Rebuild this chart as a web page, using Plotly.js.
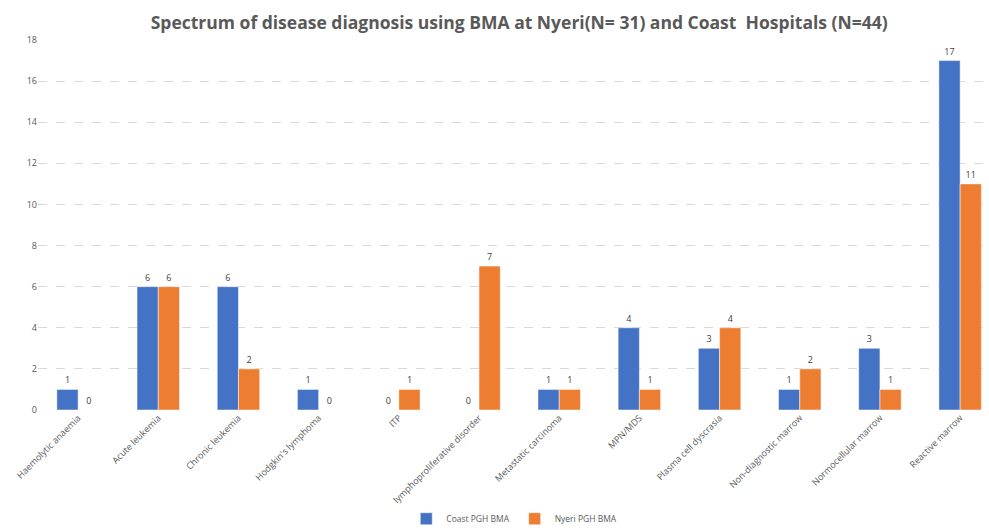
<!DOCTYPE html>
<html><head><meta charset="utf-8">
<script src="https://cdn.plot.ly/plotly-3.0.1.min.js"></script>
<style>body{margin:0;background:#fff}#c{width:989px;height:528px}</style>
</head><body><div id="c"></div>
<script>
const categories = ["Haemolytic anaemia","Acute leukemia","Chronic leukemia","Hodgkin's lymphoma","ITP","lymphoproliferative disorder","Metastatic carcinoma","MPN/MDS","Plasma cell dyscrasia","Non-diagnostic marrow","Normocellular marrow","Reactive marrow"];
const coastValues = [1,6,6,1,0,0,1,4,3,1,3,17];
const nyeriValues = [0,6,2,0,1,7,1,1,4,2,1,11];
const yTicks = [0,2,4,6,8,10,12,14,16,18];

const font = "'Open Sans',sans-serif";
const mk = (name, vals, color) => ({
  type:'bar', name, x:categories, y:vals, text:vals.map(String),
  textposition:'outside', cliponaxis:false,
  textfont:{size:9,color:'#404040',family:font},
  marker:{color, line:{color:'#ffffff',width:0.5}}
});
Plotly.newPlot('c',[mk('Coast PGH BMA',coastValues,'#4472C4'),mk('Nyeri PGH BMA',nyeriValues,'#ED7D31')],{
  width:989,height:528,
  margin:{l:38,r:0,t:40,b:118},
  paper_bgcolor:'#fff',plot_bgcolor:'#fff',
  title:{text:'<b>Spectrum of disease diagnosis using BMA at Nyeri(N= 31) and Coast  Hospitals (N=44)</b>',x:0.525,xanchor:'center',y:0.968,font:{family:font,size:17.5,color:'#595959'}},
  barmode:'group',bargap:0.47,bargroupgap:0,
  xaxis:{range:[-0.5,11.36],tickangle:-45,tickfont:{family:font,size:9,color:'#595959'},showgrid:false,showline:false,ticks:'',automargin:false},
  yaxis:{range:[0,18],tickvals:yTicks,tickfont:{family:font,size:9,color:'#595959'},gridcolor:'#d9d9d9',griddash:'dash',zeroline:false,ticks:'',ticklen:0,showline:false,automargin:false},
  legend:{orientation:'h',xref:'container',yref:'container',x:0.52,xanchor:'center',y:0.045,yanchor:'top',font:{family:font,size:8.5,color:'#595959'},itemwidth:20,tracegroupgap:0},
  showlegend:true
},{displayModeBar:false});
</script></body></html>
